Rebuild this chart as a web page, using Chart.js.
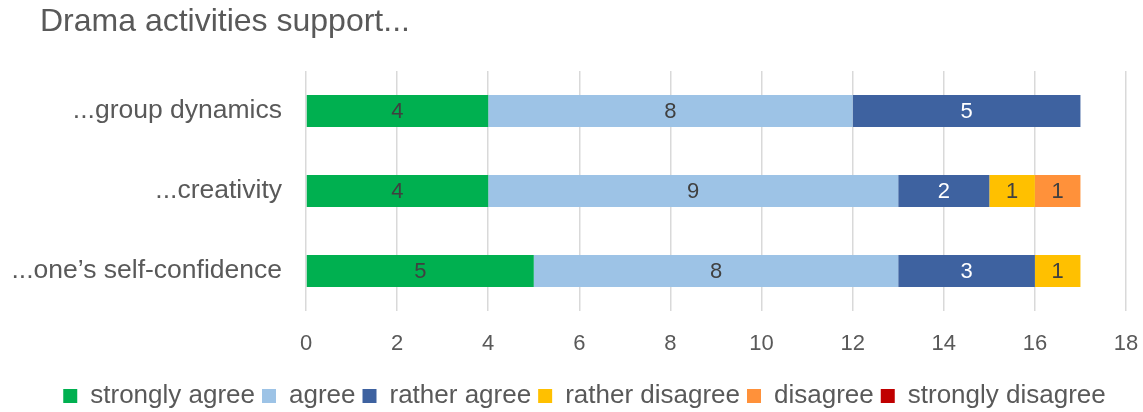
<!DOCTYPE html>
<html>
<head>
<meta charset="utf-8">
<script src="https://cdn.jsdelivr.net/npm/chart.js@4"></script>
<style>
  body { margin: 0; background: #fff; }
  #wrap { position: relative; width: 1143px; height: 412px; }
  #title { position: absolute; left: 40px; top: 2px; font: 32px "Liberation Sans", Arial, sans-serif; color: #595959; white-space: nowrap; }
</style>
</head>
<body>
<div id="wrap">
  <div id="title">Drama activities support...</div>
  <canvas id="myChart" width="1143" height="412"></canvas>
</div>
<script>
const categories = ["...group dynamics", "...creativity", "...one\u2019s self-confidence"];
const seriesNames = ["strongly agree", "agree", "rather agree", "rather disagree", "disagree", "strongly disagree"];
const stronglyAgree = [4, 4, 5];
const agree = [8, 9, 8];
const ratherAgree = [5, 2, 3];
const ratherDisagree = [0, 1, 1];
const disagree = [0, 1, 0];
const stronglyDisagree = [0, 0, 0];
const xTicks = [0, 2, 4, 6, 8, 10, 12, 14, 16, 18];

const colors = ["#00B050", "#9DC3E6", "#3E62A0", "#FFC000", "#FF913A", "#C00000"];
const labelColors = ["#404040", "#404040", "#ffffff", "#404040", "#404040", "#404040"];
const allSeries = [stronglyAgree, agree, ratherAgree, ratherDisagree, disagree, stronglyDisagree];
const fontFamily = '"Liberation Sans", Arial, sans-serif';

// values written in the middle of each bar segment
const barLabels = {
  id: 'barLabels',
  afterDatasetsDraw(chart) {
    const ctx = chart.ctx;
    ctx.save();
    ctx.font = '22px ' + fontFamily;
    ctx.textAlign = 'center';
    ctx.textBaseline = 'middle';
    chart.data.datasets.forEach((ds, i) => {
      chart.getDatasetMeta(i).data.forEach((bar, j) => {
        const v = ds.data[j];
        if (!v) return;
        const c = bar.getCenterPoint();
        ctx.fillStyle = labelColors[i];
        ctx.fillText(String(v), c.x, c.y + 1);
      });
    });
    ctx.restore();
  }
};

// nudge the legend a bit to the right, like the original
const legendShift = {
  id: 'legendShift',
  afterLayout(chart) {
    chart.legend.left += 9;
    chart.legend.right += 9;
  }
};

let chart = document.getElementById('myChart').getContext('2d');

let myChart = new Chart(chart, {
  type: 'bar',
  data: {
    labels: categories,
    datasets: seriesNames.map((name, i) => ({
      label: name,
      data: allSeries[i],
      backgroundColor: colors[i],
      borderWidth: 0,
      barPercentage: 0.4,
      categoryPercentage: 1.0
    }))
  },
  options: {
    indexAxis: 'y',
    responsive: false,
    animation: false,
    layout: { padding: { top: 71, left: 8, right: 0, bottom: -7 } },
    scales: {
      x: {
        stacked: true,
        min: 0,
        max: 18,
        afterBuildTicks: (s) => { s.ticks = xTicks.map(v => ({ value: v })); },
        afterFit: (s) => { s.height = 65; s.paddingRight = 17; s.paddingLeft = 0; },
        grid: { color: '#d9d9d9', lineWidth: 1.5, drawTicks: false },
        border: { display: false },
        ticks: { color: '#595959', padding: 20, font: { size: 22, family: fontFamily } }
      },
      y: {
        stacked: true,
        afterFit: (s) => { s.width = 298; },
        grid: { display: false },
        border: { display: false },
        ticks: { color: '#595959', padding: 16, font: { size: 26.5, family: fontFamily } }
      }
    },
    plugins: {
      legend: {
        position: 'bottom',
        labels: {
          color: '#595959',
          boxWidth: 14,
          boxHeight: 14,
          padding: 7,
          font: { size: 26, family: fontFamily }
        }
      },
      tooltip: { enabled: false }
    }
  },
  plugins: [barLabels, legendShift]
});
</script>
</body>
</html>
